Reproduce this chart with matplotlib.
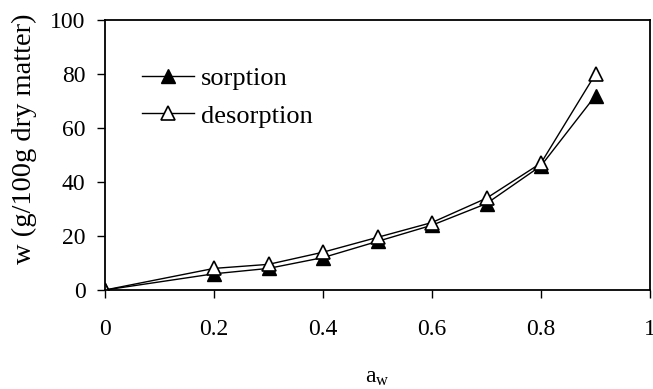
import matplotlib
matplotlib.use("Agg")
from matplotlib import pyplot as plt

# water activity and moisture content (g/100g dry matter)
aw = [0, 0.2, 0.3, 0.4, 0.5, 0.6, 0.7, 0.8, 0.9]
sorption = [0, 6, 8, 12, 18, 24, 32, 46, 72]
desorption = [0, 8, 9.5, 14, 19.5, 25, 34, 47, 80]

xticks = [0, 0.2, 0.4, 0.6, 0.8, 1]
xticklabels = ['0', '0.2', '0.4', '0.6', '0.8', '1']
yticks = [0, 20, 40, 60, 80, 100]

plt.rcParams['font.family'] = ['Liberation Serif', 'DejaVu Serif']
plt.rcParams['mathtext.fontset'] = 'stix'

fig = plt.figure(figsize=(6.53, 3.89), dpi=100)
ax = fig.add_axes([105/653, 1 - 290/389, 545/653, 270/389])

ax.plot(aw, sorption, color='black', lw=1, marker='^', ms=10,
        mfc='black', mec='black', label='sorption')
ax.plot(aw, desorption, color='black', lw=1, marker='^', ms=10,
        mfc='white', mec='black', mew=1.2, label='desorption')

ax.set_xlim(0, 1)
ax.set_ylim(0, 100)
ax.set_xticks(xticks)
ax.set_xticklabels(xticklabels)
ax.set_yticks(yticks)
ax.tick_params(direction='out', length=6, width=1, labelsize=17, pad=8)
ax.tick_params(axis='x', pad=15)
for s in ax.spines.values():
    s.set_linewidth(1.3)

ax.set_ylabel('w (g/100g dry matter)', fontsize=20.5)
ax.yaxis.set_label_coords(-0.125, 0.56)
ax.set_xlabel('a$_\\mathregular{w}$', fontsize=17)
ax.xaxis.set_label_coords(0.5, -0.285)

ax.legend(loc='upper left', bbox_to_anchor=(0.048, 0.865), frameon=False,
          fontsize=19, handlelength=2.0, handletextpad=0.25,
          labelspacing=0.52, borderaxespad=0)

fig.savefig('out.png', dpi=100)
